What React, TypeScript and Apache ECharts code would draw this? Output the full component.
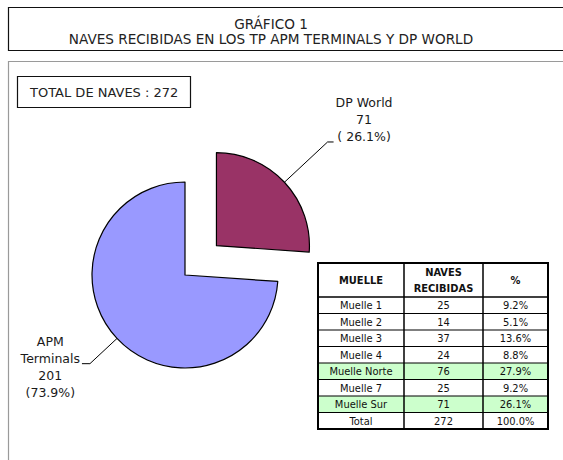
import React, { useEffect, useRef } from "react";
import * as echarts from "echarts";

const titleLines = ["GRÁFICO 1", "NAVES RECIBIDAS EN LOS TP APM TERMINALS Y DP WORLD"];
const totalLabel = "TOTAL DE NAVES : 272";

const pieNames = ["DP World", "APM Terminals"];
const pieValues = [71, 201];
const pieColors = ["#993366", "#9999FF"];

const tableHeaders = ["MUELLE", "NAVES\nRECIBIDAS", "%"];
const muelles = ["Muelle 1", "Muelle 2", "Muelle 3", "Muelle 4", "Muelle Norte", "Muelle 7", "Muelle Sur", "Total"];
const navesRecibidas = [25, 14, 37, 24, 76, 25, 71, 272];
const porcentajes = ["9.2%", "5.1%", "13.6%", "8.8%", "27.9%", "9.2%", "26.1%", "100.0%"];
const resaltados = [false, false, false, false, true, false, true, false];

const FONT = "'DejaVu Sans', sans-serif";
const TFONT = "'DejaVu Sans Condensed', 'Liberation Sans Narrow', 'DejaVu Sans', sans-serif";

function buildTable(): any[] {
  const els: any[] = [];
  const xs = [318, 404, 483, 548];
  const yTop = 263;
  const yHead = 297;
  const rowH = 16.5;
  const yBottom = yHead + rowH * muelles.length;
  els.push({ type: "rect", z: 20, shape: { x: xs[0], y: yTop, width: xs[3] - xs[0], height: yHead - yTop }, style: { fill: "#ffffff" } });
  muelles.forEach((m, i) => {
    const y = yHead + rowH * i;
    els.push({ type: "rect", z: 20, shape: { x: xs[0], y, width: xs[3] - xs[0], height: rowH }, style: { fill: resaltados[i] ? "#CCFFCC" : "#ffffff" } });
    const cells = [m, String(navesRecibidas[i]), porcentajes[i]];
    cells.forEach((c, j) => {
      els.push({
        type: "text", z: 22,
        style: { text: c, x: (xs[j] + xs[j + 1]) / 2, y: y + rowH / 2 + 0.5, align: "center", verticalAlign: "middle", fontSize: 11, fontFamily: TFONT, fill: "#111" },
      });
    });
    if (i > 0) {
      els.push({ type: "line", z: 21, shape: { x1: xs[0], y1: y, x2: xs[3], y2: y }, style: { stroke: "#000", lineWidth: 1.2 } });
    }
  });
  tableHeaders.forEach((h, j) => {
    els.push({
      type: "text", z: 22,
      style: { text: h, x: (xs[j] + xs[j + 1]) / 2, y: (yTop + yHead) / 2 + 0.5, align: "center", verticalAlign: "middle", fontSize: 11, lineHeight: 16, fontWeight: "bold", fontFamily: TFONT, fill: "#111" },
    });
  });
  els.push({ type: "line", z: 21, shape: { x1: xs[0], y1: yHead, x2: xs[3], y2: yHead }, style: { stroke: "#000", lineWidth: 1.5 } });
  [xs[1], xs[2]].forEach((x) => {
    els.push({ type: "line", z: 21, shape: { x1: x, y1: yTop, x2: x, y2: yBottom }, style: { stroke: "#000", lineWidth: 1.5 } });
  });
  els.push({ type: "rect", z: 23, shape: { x: xs[0], y: yTop, width: xs[3] - xs[0], height: yBottom - yTop }, style: { fill: "none", stroke: "#000", lineWidth: 2 } });
  return els;
}

export default function App() {
  const ref = useRef<HTMLDivElement>(null);
  useEffect(() => {
    if (!ref.current) return;
    const chart = echarts.init(ref.current, undefined, { renderer: "svg" });
    const total = pieValues.reduce((a, b) => a + b, 0);
    const labelSetups = [
      { length: 59, length2: 6, padding: [0, 0, 44, 0] },
      { length: 37, length2: 8, padding: [7, 0, 0, 0] },
    ];
    const data = pieNames.map((n, i) => ({
      name: n,
      value: pieValues[i],
      selected: i === 0,
      itemStyle: { color: pieColors[i] },
      label: { padding: labelSetups[i].padding },
      labelLine: { length: labelSetups[i].length, length2: labelSetups[i].length2 },
    }));
    chart.setOption({
      animation: false,
      backgroundColor: "#ffffff",
      series: [
        {
          type: "pie",
          center: [185, 275],
          radius: 93,
          startAngle: 90,
          clockwise: true,
          selectedMode: "single",
          selectedOffset: 43,
          avoidLabelOverlap: false,
          emphasis: { disabled: true },
          itemStyle: { borderColor: "#000", borderWidth: 1.2 },
          label: {
            show: true,
            position: "outside",
            distanceToLabelLine: 2,
            color: "#1a1a1a",
            fontFamily: FONT,
            fontSize: 12.5,
            formatter: (p: any) => {
              const pct = ((p.value / total) * 100).toFixed(1);
              const nameLines = p.dataIndex === 0 ? [p.name] : p.name.split(" ");
              const pctText = p.dataIndex === 0 ? `( ${pct}%)` : `(${pct}%)`;
              return [...nameLines, String(p.value), pctText].map((s: string) => `{c|${s}}`).join("\n");
            },
            rich: { c: { align: "center", fontSize: 12.5, lineHeight: 17, fontFamily: FONT, color: "#1a1a1a" } },
          },
          labelLine: { show: true, lineStyle: { color: "#000", width: 1 } },
          data,
        },
      ],
      graphic: [
        { type: "rect", z: 1, shape: { x: 8.5, y: 7.5, width: 600, height: 43 }, style: { fill: "#fff", stroke: "#111", lineWidth: 1.2 } },
        { type: "text", z: 2, style: { text: titleLines[0], x: 271, y: 24, align: "center", verticalAlign: "middle", fontSize: 13.6, fontFamily: FONT, fill: "#222" } },
        { type: "text", z: 2, style: { text: titleLines[1], x: 271, y: 39, align: "center", verticalAlign: "middle", fontSize: 13.6, fontFamily: FONT, fill: "#222" } },
        { type: "rect", z: 1, shape: { x: 8.5, y: 61.5, width: 600, height: 500 }, style: { fill: "none", stroke: "#9a9a9a", lineWidth: 1.2 } },
        { type: "rect", z: 2, shape: { x: 17.5, y: 76.5, width: 173, height: 31 }, style: { fill: "#fff", stroke: "#111", lineWidth: 1.2 } },
        { type: "text", z: 3, style: { text: totalLabel, x: 30, y: 92, align: "left", verticalAlign: "middle", fontSize: 13, fontFamily: FONT, fill: "#222" } },
        ...buildTable(),
      ],
    });
    return () => chart.dispose();
  }, []);
  return (
    <div
      ref={ref}
      style={{ position: "absolute", left: 0, top: 0, width: 563, height: 460, background: "#fff" }}
    />
  );
}
